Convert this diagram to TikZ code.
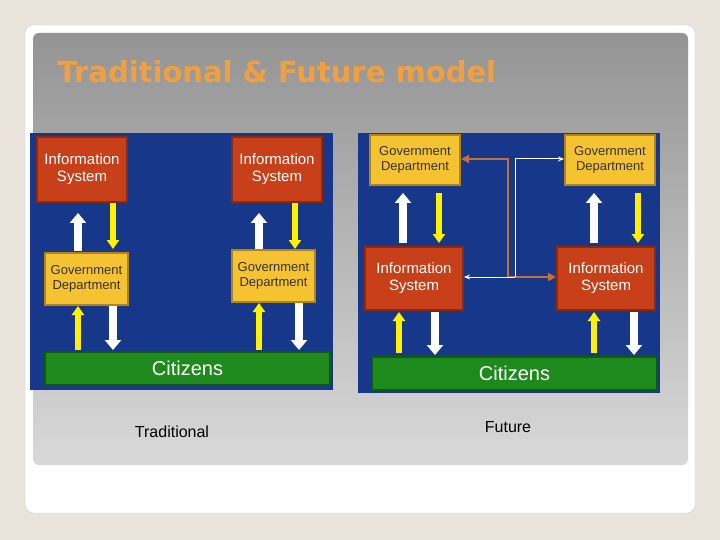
\documentclass[tikz,border=0pt]{standalone}
\usepackage{fontspec}
\setmainfont{Liberation Sans}
\newfontfamily\titlefont{DejaVu Sans}
\usetikzlibrary{arrows.meta}
\definecolor{pagebg}{HTML}{E8E4DC}
\definecolor{panelblue}{HTML}{17388A}
\definecolor{isred}{HTML}{C8401A}
\definecolor{isdark}{HTML}{8A2A10}
\definecolor{gdyel}{HTML}{F5C232}
\definecolor{gddark}{HTML}{B08418}
\definecolor{citgreen}{HTML}{1E8A1E}
\definecolor{citdark}{HTML}{0E5A0E}
\definecolor{brownc}{HTML}{C0703A}
\definecolor{titleor}{HTML}{F0A040}
\begin{document}
\begin{tikzpicture}[x=1pt,y=-1pt,
 box/.style={draw, line width=2pt, inner sep=0pt, align=center, text=white},
 is/.style={box, fill=isred, draw=isdark, font=\fontsize{15}{17}\selectfont},
 gd/.style={box, fill=gdyel, draw=gddark, text=black!80, font=\fontsize{13}{15}\selectfont},
 cit/.style={box, fill=citgreen, draw=citdark, font=\fontsize{20}{21}\selectfont},
 wa/.style={draw=white, line width=8pt, -{Triangle[length=10pt,width=16pt]}},
 ya/.style={draw=yellow, line width=6pt, -{Triangle[length=9pt,width=12pt]}},
 br/.style={draw=brownc, line width=2.5pt, -{Triangle[length=8pt,width=8pt]}},
 wt/.style={draw=white, line width=1pt, -{Stealth[length=6pt,width=5pt]}},
 lab/.style={font=\fontsize{16}{18}\selectfont}]
\useasboundingbox (0,0) rectangle (720,540);
\fill[pagebg] (0,0) rectangle (720,540);
\filldraw[fill=white, draw=black!20, rounded corners=8pt] (25,25) rectangle (695,513);
\shade[top color=black!42, bottom color=black!15, rounded corners=6pt] (33,33) rectangle (688,465);
\node[anchor=west, text=titleor, font=\titlefont\bfseries\fontsize{29}{31}\selectfont] (title) at (54,72) {Traditional \& Future model};
% left panel
\fill[panelblue] (30,133) rectangle (333,390);
\node[is, minimum width=90pt, minimum height=65pt] (lis1) at (82,169.5) {Information\\System};
\node[is, minimum width=90pt, minimum height=65pt] (lis2) at (277,169.5) {Information\\System};
\node[gd, minimum width=83pt, minimum height=52pt] (lgd1) at (86.5,279) {Government\\Department};
\node[gd, minimum width=83pt, minimum height=52pt] (lgd2) at (273.5,276) {Government\\Department};
\node[cit, minimum width=285pt, minimum height=33pt] (lcit) at (187.5,368.5) {Citizens};
\draw[wa] (78,251) -- (78,213);
\draw[ya] (113,203) -- (113,249);
\draw[ya] (78,350) -- (78,306);
\draw[wa] (113,306) -- (113,350);
\draw[wa] (259,249) -- (259,213);
\draw[ya] (295,203) -- (295,249);
\draw[ya] (259,350) -- (259,303);
\draw[wa] (299,303) -- (299,350);
% right panel
\fill[panelblue] (358,133) rectangle (660,393);
\node[gd, minimum width=90pt, minimum height=50pt] (rgd1) at (415,160) {Government\\Department};
\node[gd, minimum width=90pt, minimum height=50pt] (rgd2) at (610,160) {Government\\Department};
\node[is, minimum width=98pt, minimum height=63pt] (ris1) at (414,278.5) {Information\\System};
\node[is, minimum width=98pt, minimum height=63pt] (ris2) at (606,278.5) {Information\\System};
\node[cit, minimum width=285pt, minimum height=33pt] (rcit) at (514.5,373.5) {Citizens};
\coordinate (bj) at (508,277);
\coordinate (wj) at (515,277);
\draw[br] (bj) |- (rgd1.east |- 0,159);
\draw[br] (bj) -- (ris2.west |- bj);
\draw[wt] (wj) -- (ris1.east |- wj);
\draw[wt] (wj) |- (rgd2.west |- 0,159);
\draw[wa] (403,243) -- (403,193);
\draw[ya] (439,193) -- (439,243);
\draw[ya] (399,353) -- (399,312);
\draw[wa] (435,312) -- (435,355);
\draw[wa] (594,243) -- (594,193);
\draw[ya] (638,193) -- (638,243);
\draw[ya] (594,353) -- (594,312);
\draw[wa] (634,312) -- (634,355);
\node[lab] (tl) at (172,432) {Traditional};
\node[lab] (fl) at (508,427) {Future};
\end{tikzpicture}
\end{document}
